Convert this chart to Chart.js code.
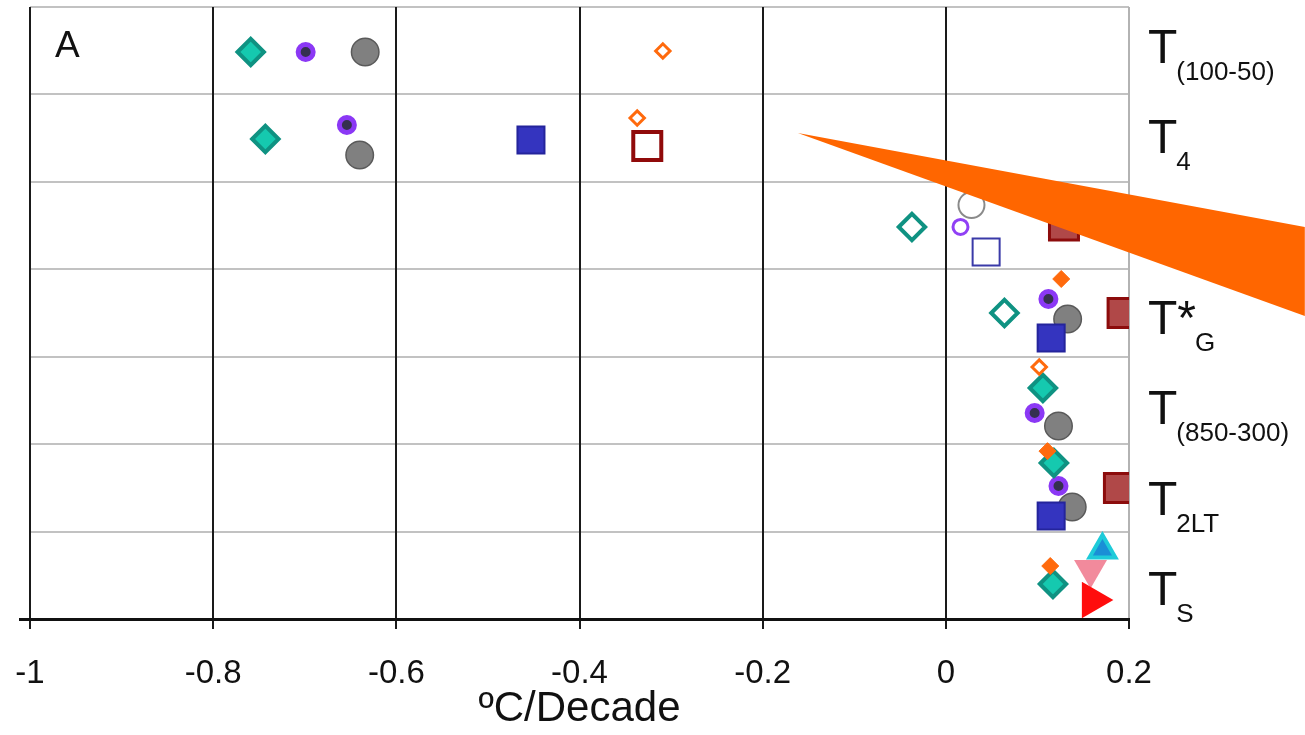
<!DOCTYPE html>
<html>
<head>
<meta charset="utf-8">
<script src="https://cdn.jsdelivr.net/npm/chart.js@4.4.1/dist/chart.umd.min.js"></script>
<style>
  html, body { margin: 0; padding: 0; background: #ffffff; }
  #wrap { width: 1305px; height: 735px; }
</style>
</head>
<body>
<div id="wrap"><canvas id="chart" width="1305" height="735"></canvas></div>
<script>
// Trend estimates (ºC/decade) for each temperature layer.
// Rows run top to bottom: T(100-50), T4, T*T, T*G, T(850-300), T2LT, TS.
const rowMain = ['T', 'T', 'T*', 'T*', 'T', 'T', 'T'];
const rowSub  = ['(100-50)', '4', 'T', 'G', '(850-300)', '2LT', 'S'];
const xTickLabels = ['-1', '-0.8', '-0.6', '-0.4', '-0.2', '0', '0.2'];

// Each series: trend values (x) and their vertical slot on the 0..7 row scale (y).
const tealSolidX = [-0.759, -0.743, 0.106, 0.118, 0.117];
const tealSolidY = [6.485, 5.490, 2.642, 1.784, 0.400];
const tealOpenX  = [-0.037, 0.064];
const tealOpenY  = [4.484, 3.500];
const purpleDotX = [-0.699, -0.654, 0.112, 0.097, 0.123];
const purpleDotY = [6.485, 5.650, 3.660, 2.356, 1.521];
const purpleRingX = [0.016];
const purpleRingY = [4.484];
const grayDotX = [-0.634, -0.640, 0.133, 0.123, 0.138];
const grayDotY = [6.485, 5.307, 3.430, 2.207, 1.281];
const grayRingX = [0.028];
const grayRingY = [4.735];
const orangeOpenX = [-0.309, -0.337, 0.102];
const orangeOpenY = [6.497, 5.730, 2.882];
const orangeSolidX = [0.126, 0.111, 0.114];
const orangeSolidY = [3.889, 1.920, 0.606];
const blueSolidX = [-0.453, 0.115, 0.115];
const blueSolidY = [5.480, 3.214, 1.178];
const blueOpenX = [0.044];
const blueOpenY = [4.198];
const redOpenX = [-0.326];
const redOpenY = [5.410];
const redSolidX = [0.129, 0.193, 0.189];
const redSolidY = [4.500, 3.500, 1.498];
const cyanUpX = [0.171];
const cyanUpY = [0.789];
const pinkDownX = [0.158];
const pinkDownY = [0.565];
const redRightX = [0.160];
const redRightY = [0.217];

// Pointer wedge, in axis units (apex, upper end, lower end).
const wedgeX = [-0.1616, 0.392, 0.392];
const wedgeY = [5.559, 4.484, 3.466];

const FONT = "'Liberation Sans', Arial, Helvetica, sans-serif";

function pts(xs, ys) { return xs.map((x, i) => ({ x: x, y: ys[i] })); }

function series(xs, ys, style) {
  return Object.assign({ data: pts(xs, ys), showLine: false }, style);
}

// Listed topmost first (Chart.js paints the first dataset last).
const datasets = [
  series(redRightX, redRightY, { pointStyle: 'triangle', rotation: 90, pointRadius: 21,
    backgroundColor: '#ff0d0d', borderColor: '#ff0d0d', borderWidth: 0 }),
  series(cyanUpX, cyanUpY, { pointStyle: 'triangle', rotation: 0, pointRadius: 15,
    backgroundColor: '#1a8fd6', borderColor: '#1ecbd9', borderWidth: 4 }),
  series(pinkDownX, pinkDownY, { pointStyle: 'triangle', rotation: 180, pointRadius: 19,
    backgroundColor: '#f28a9c', borderColor: '#f28a9c', borderWidth: 0 }),
  series(redSolidX, redSolidY, { pointStyle: 'rect', pointRadius: 20.5,
    backgroundColor: '#b04848', borderColor: '#8c0c0c', borderWidth: 3 }),
  series(redOpenX, redOpenY, { pointStyle: 'rect', pointRadius: 19.8,
    backgroundColor: '#ffffff', borderColor: '#900a0a', borderWidth: 4 }),
  series(orangeSolidX, orangeSolidY, { pointStyle: 'rectRot', pointRadius: 8.5,
    backgroundColor: '#ff6a0d', borderColor: '#ff6a0d', borderWidth: 1 }),
  series(blueSolidX, blueSolidY, { pointStyle: 'rect', pointRadius: 19.1,
    backgroundColor: '#3434bf', borderColor: '#24249c', borderWidth: 2 }),
  series(blueOpenX, blueOpenY, { pointStyle: 'rect', pointRadius: 19.1,
    backgroundColor: '#ffffff', borderColor: '#3a3aa8', borderWidth: 2 }),
  series(orangeOpenX, orangeOpenY, { pointStyle: 'rectRot', pointRadius: 7.2,
    backgroundColor: '#ffffff', borderColor: '#ff6a0d', borderWidth: 3 }),
  series(tealSolidX, tealSolidY, { pointStyle: 'rectRot', pointRadius: 13.2,
    backgroundColor: '#15c9af', borderColor: '#0f9282', borderWidth: 4 }),
  series(tealOpenX, tealOpenY, { pointStyle: 'rectRot', pointRadius: 13.2,
    backgroundColor: '#ffffff', borderColor: '#0f9282', borderWidth: 4 }),
  series(purpleDotX, purpleDotY, { pointStyle: 'circle', pointRadius: 7.5,
    backgroundColor: '#35304f', borderColor: '#8b38f5', borderWidth: 5 }),
  series(purpleRingX, purpleRingY, { pointStyle: 'circle', pointRadius: 7.5,
    backgroundColor: '#ffffff', borderColor: '#9040f5', borderWidth: 3 }),
  series(grayDotX, grayDotY, { pointStyle: 'circle', pointRadius: 13.75,
    backgroundColor: '#808080', borderColor: '#5a5a5a', borderWidth: 1.5 }),
  series(grayRingX, grayRingY, { pointStyle: 'circle', pointRadius: 13,
    backgroundColor: '#ffffff', borderColor: '#8a8a8a', borderWidth: 2 })
];

// Panel letter, layer labels on the right, and the pointer wedge on top.
const decorations = {
  id: 'decorations',
  afterDraw(chart) {
    const ctx = chart.ctx;
    const area = chart.chartArea;
    const xs = chart.scales.x, ys = chart.scales.y;
    ctx.save();

    // short stub of the baseline to the left of the first gridline
    ctx.strokeStyle = '#111111';
    ctx.lineWidth = 3;
    ctx.beginPath();
    ctx.moveTo(area.left - 11, area.bottom + 0.5);
    ctx.lineTo(area.left, area.bottom + 0.5);
    ctx.stroke();

    ctx.fillStyle = '#111111';
    ctx.textAlign = 'left';
    ctx.textBaseline = 'alphabetic';

    ctx.font = '37px ' + FONT;
    ctx.fillText('A', area.left + 25, area.top + 50);

    const labelX = area.right + 19;
    rowMain.forEach((main, i) => {
      const center = ys.getPixelForValue(ys.max - 0.5 - i);
      const base = center + 12 + 3 * i;
      ctx.font = '48px ' + FONT;
      ctx.fillText(main, labelX, base);
      const w = ctx.measureText(main).width;
      ctx.font = '26px ' + FONT;
      ctx.fillText(rowSub[i], labelX + w - 1, base + 17);
    });

    ctx.beginPath();
    wedgeX.forEach((v, i) => {
      const px = xs.getPixelForValue(v), py = ys.getPixelForValue(wedgeY[i]);
      if (i === 0) ctx.moveTo(px, py); else ctx.lineTo(px, py);
    });
    ctx.closePath();
    ctx.fillStyle = '#ff6600';
    ctx.fill();
    ctx.restore();
  }
};

new Chart(document.getElementById('chart'), {
  type: 'scatter',
  data: { datasets: datasets },
  options: {
    responsive: false,
    animation: false,
    devicePixelRatio: 1,
    layout: { autoPadding: false, padding: { left: 30, right: 176, top: 7, bottom: 0 } },
    plugins: { legend: { display: false }, tooltip: { enabled: false } },
    elements: { point: { hoverRadius: 0 } },
    scales: {
      x: {
        type: 'linear',
        min: -1, max: 0.2,
        position: 'bottom',
        afterFit(scale) {
          scale.height = 116;
          scale.paddingLeft = 0;
          scale.paddingRight = 0;
        },
        ticks: {
          stepSize: 0.2,
          autoSkip: false,
          maxRotation: 0,
          padding: 25,
          color: '#111111',
          font: { family: FONT, size: 33 },
          callback: (v, i) => xTickLabels[i]
        },
        grid: {
          z: -1,
          lineWidth: 2,
          tickLength: 10,
          tickWidth: 2,
          tickColor: '#1a1a1a',
          color: c => (c.tick && c.tick.value > 0.15) ? '#b3b3b3' : '#1a1a1a'
        },
        border: { display: true, color: '#111111', width: 3 },
        title: {
          display: true,
          text: 'ºC/Decade',
          color: '#111111',
          font: { family: FONT, size: 42 },
          padding: { top: 0, bottom: 0 }
        }
      },
      y: {
        type: 'linear',
        min: 0, max: 7,
        position: 'left',
        afterFit(scale) { scale.width = 0; },
        ticks: { display: false, stepSize: 1 },
        grid: {
          z: -2,
          drawTicks: false,
          lineWidth: 2,
          color: c => (c.tick && c.tick.value === 0) ? 'rgba(0,0,0,0)' : '#c2c2c2'
        },
        border: { display: false }
      }
    }
  },
  plugins: [decorations]
});
</script>
</body>
</html>
